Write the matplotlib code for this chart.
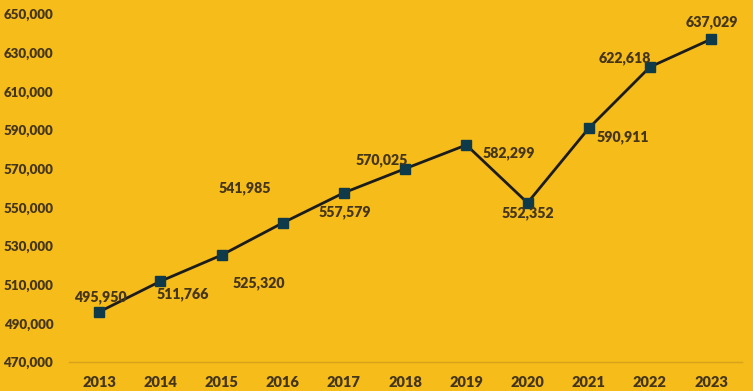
import matplotlib
matplotlib.use("Agg")
import matplotlib.pyplot as plt
from matplotlib.ticker import FuncFormatter

years = ["2013", "2014", "2015", "2016", "2017", "2018", "2019", "2020", "2021", "2022", "2023"]
values = [495950, 511766, 525320, 541985, 557579, 570025, 582299, 552352, 590911, 622618, 637029]
y_ticks = [470000, 490000, 510000, 530000, 550000, 570000, 590000, 610000, 630000, 650000]
label_offsets = [(1, 15), (22, -13), (37, -28), (-38, 35), (1, -19), (-23, 9),
                 (42, -8), (0, -10), (34, -9), (-25, 9), (1, 17)]

bg = "#F5BC1A"
txt = "#45361a"
plt.rcParams['font.family'] = ['Lato', 'DejaVu Sans']

fig = plt.figure(figsize=(7.53, 3.91), dpi=100)
fig.patch.set_facecolor(bg)
ax = fig.add_axes([0.091, 0.074, 0.894, 0.890])
ax.set_facecolor(bg)

x = list(range(len(years)))
ax.plot(x, values, color="#1c1c1c", lw=2, marker="s", markersize=7,
        markerfacecolor="#0f3a4a", markeredgecolor="#0f3a4a", zorder=3)

for xi, v, (dx, dy) in zip(x, values, label_offsets):
    ax.annotate(f"{v:,}", (xi, v), xytext=(dx, dy), textcoords="offset pixels",
                ha="center", va="center", fontsize=10.2, fontweight="heavy", color=txt)

ax.set_xlim(-0.5, len(years) - 0.5)
ax.set_ylim(y_ticks[0], y_ticks[-1])
ax.set_yticks(y_ticks)
ax.yaxis.set_major_formatter(FuncFormatter(lambda v, p: f"{int(v):,}"))
ax.set_xticks(x)
ax.set_xticklabels(years)

for s in ["top", "right", "left"]:
    ax.spines[s].set_visible(False)
ax.spines["bottom"].set_color("#d9a21c")
ax.spines["bottom"].set_linewidth(1)
ax.tick_params(axis="x", length=0, colors=txt, labelsize=10.5, pad=10)
ax.tick_params(axis="y", length=0, colors=txt, labelsize=9.6, pad=11)
for lab in ax.get_xticklabels() + ax.get_yticklabels():
    lab.set_fontweight("heavy")

fig.savefig("out.png", dpi=100, facecolor=bg)
